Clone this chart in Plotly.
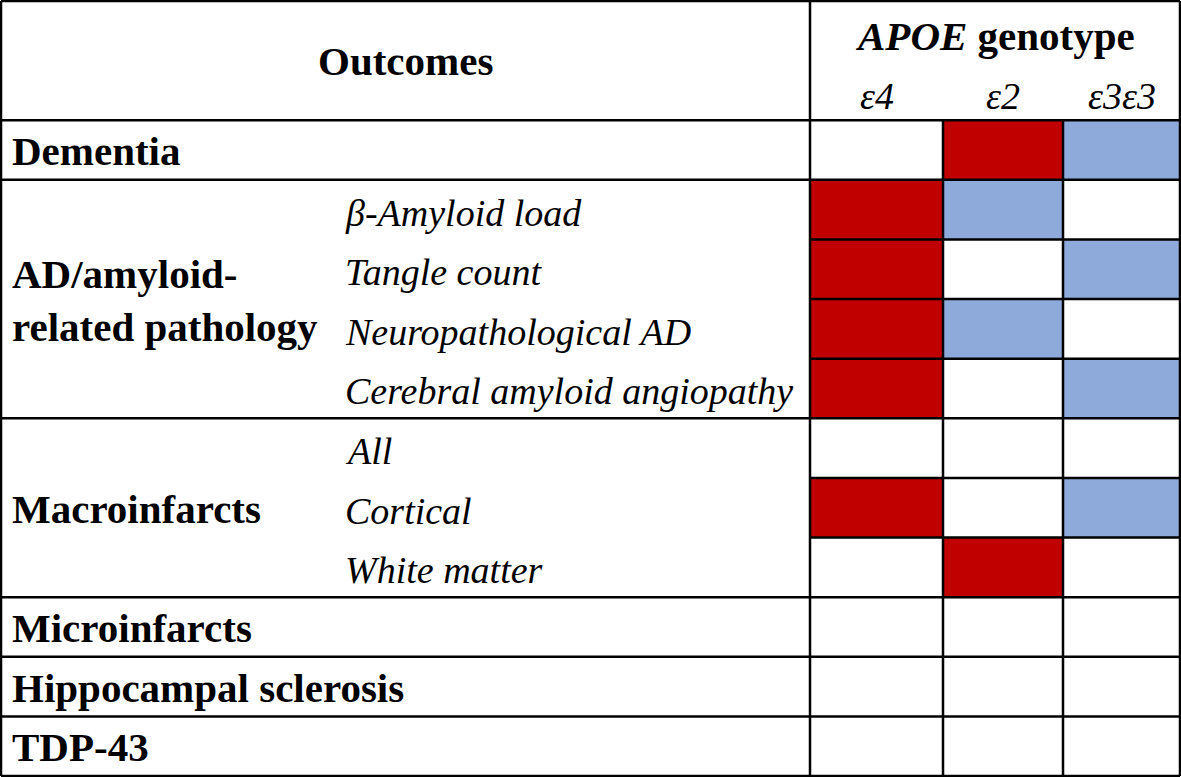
import plotly.graph_objects as go

# ---- data ----
genotypes = ["ε4", "ε2", "ε3ε3"]
groups = ["Dementia", "AD/amyloid-<br>related pathology", "Macroinfarcts",
          "Microinfarcts", "Hippocampal sclerosis", "TDP-43"]
group_sizes = [1, 4, 3, 1, 1, 1]
sub_outcomes = ["", "β-Amyloid load", "Tangle count", "Neuropathological AD",
                "Cerebral amyloid angiopathy", "All", "Cortical", "White matter",
                "", "", ""]
# association direction: 1 = red, -1 = blue, 0 = none
eps4 = [0, 1, 1, 1, 1, 0, 1, 0, 0, 0, 0]
eps2 = [1, -1, 0, -1, 0, 0, 0, 1, 0, 0, 0]
eps3eps3 = [-1, 0, -1, 0, -1, 0, -1, 0, 0, 0, 0]

# ---- layout constants ----
RED = "#C00000"
BLUE = "#8EAADB"
FONT = "Liberation Serif"
W, H = 1181, 777
col_edges = [810, 943, 1063, 1180]
x_left = 1
header_units = 2
n_rows = len(sub_outcomes)
total_units = header_units + n_rows
unit_px = (H - 2) / total_units

z = [[eps4[i], eps2[i], eps3eps3[i]] for i in range(n_rows)]
y_edges = [header_units + i for i in range(n_rows + 1)]

fig = go.Figure()
fig.add_trace(go.Heatmap(
    z=z, x=col_edges, y=y_edges, zmin=-1, zmax=1,
    colorscale=[[0, BLUE], [0.333, BLUE], [0.333, "white"], [0.667, "white"],
                [0.667, RED], [1, RED]],
    showscale=False, hoverinfo="skip"))

# grid lines
gx, gy = [], []
def seg(x0, y0, x1, y1):
    gx.extend([x0, x1, None]); gy.extend([y0, y1, None])

group_bounds = [header_units]
for s in group_sizes:
    group_bounds.append(group_bounds[-1] + s)
seg(x_left, 0, col_edges[-1], 0)
for b in group_bounds:
    seg(x_left, b, col_edges[-1], b)
for r in range(header_units, total_units + 1):
    if r not in group_bounds:
        seg(col_edges[0], r, col_edges[-1], r)
seg(x_left, 0, x_left, total_units)
seg(col_edges[0], 0, col_edges[0], total_units)
seg(col_edges[-1], 0, col_edges[-1], total_units)
for c in col_edges[1:-1]:
    seg(c, header_units, c, total_units)
fig.add_trace(go.Scatter(x=gx, y=gy, mode="lines",
                         line=dict(color="black", width=2.5),
                         hoverinfo="skip", showlegend=False))

ann = []
def text(x, y, t, size=41, anchor="left"):
    ann.append(dict(x=x, y=y, text=t, showarrow=False, xanchor=anchor, align=anchor,
                    yanchor="middle", font=dict(family=FONT, size=size, color="black")))

text(col_edges[0] / 2, header_units / 2, "<b>Outcomes</b>", anchor="center")
text((col_edges[0] + col_edges[-1]) / 2, 0.58, "<b><i>APOE</i> genotype</b>", anchor="center")
for i, g in enumerate(genotypes):
    text((col_edges[i] + col_edges[i + 1]) / 2, 1.6, "<i>" + g + "</i>", size=38, anchor="center")
for gi, g in enumerate(groups):
    text(10, (group_bounds[gi] + group_bounds[gi + 1]) / 2 + 0.02, "<b>" + g + "</b>")
for i, s in enumerate(sub_outcomes):
    if s:
        text(343, header_units + i + 0.55, "<i>" + s + "</i>", size=38)

fig.update_layout(
    width=W, height=H, margin=dict(l=0, r=0, t=0, b=0),
    paper_bgcolor="white", plot_bgcolor="white",
    xaxis=dict(range=[0, W], visible=False, fixedrange=True),
    yaxis=dict(range=[total_units + 1 / unit_px, -1 / unit_px], visible=False, fixedrange=True),
    annotations=ann, showlegend=False)

fig.write_html("out.html", config={"displayModeBar": False},
               post_script="document.body.style.margin='0';document.body.style.overflow='hidden';")
